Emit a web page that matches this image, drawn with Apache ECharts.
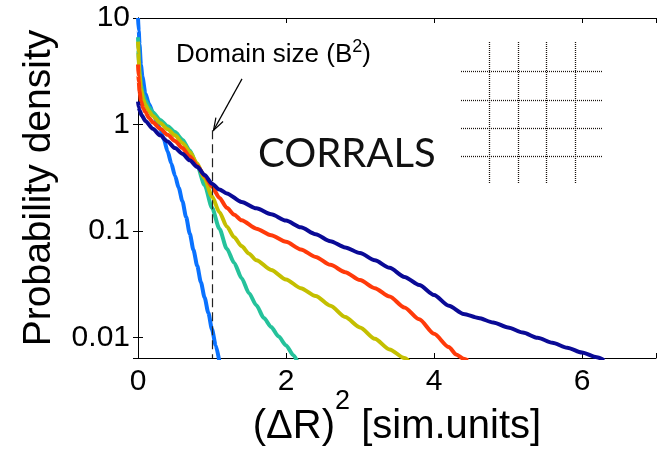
<!DOCTYPE html>
<html>
<head>
<meta charset="utf-8">
<script src="https://cdn.jsdelivr.net/npm/echarts@6/dist/echarts.min.js"></script>
<style>
  html, body { margin: 0; padding: 0; background: #fff; }
  #chart { width: 662px; height: 452px; }
</style>
</head>
<body>
<div id="chart"></div>
<script>
// Displacement distributions, one curve per corral size: [(ΔR)^2, probability density]
const lightBlue = [[0,10],[0.01,7.6],[0.02,5.7],[0.04,3.6],[0.06,2.8],[0.1,1.95],[0.15,1.55],[0.2,1.3],[0.25,1.08],[0.3,0.9],[0.35,0.72],[0.4,0.56],[0.45,0.43],[0.5,0.33],[0.55,0.255],[0.6,0.19],[0.65,0.135],[0.7,0.094],[0.75,0.066],[0.8,0.047],[0.85,0.033],[0.9,0.0237],[0.95,0.017],[1.0,0.0119],[1.05,0.0084],[1.1,0.0059]];
const teal = [[0,6.6],[0.005,5.0],[0.01,4.2],[0.02,3.2],[0.04,2.35],[0.07,1.9],[0.1,1.68],[0.15,1.45],[0.2,1.3],[0.3,1.1],[0.4,0.96],[0.5,0.85],[0.6,0.72],[0.7,0.57],[0.8,0.41],[0.9,0.27],[1.0,0.165],[1.1,0.105],[1.2,0.068],[1.3,0.05],[1.4,0.036],[1.5,0.026],[1.6,0.02],[1.7,0.0152],[1.8,0.0125],[1.9,0.0102],[2.0,0.0084],[2.1,0.0068],[2.15,0.006]];
const olive = [[0,6.0],[0.005,4.8],[0.01,4.0],[0.02,3.0],[0.04,2.15],[0.07,1.72],[0.1,1.52],[0.15,1.33],[0.2,1.2],[0.3,1.03],[0.4,0.9],[0.5,0.79],[0.6,0.67],[0.7,0.55],[0.8,0.43],[0.9,0.31],[1.0,0.21],[1.1,0.15],[1.2,0.11],[1.3,0.087],[1.4,0.072],[1.5,0.061],[1.6,0.053],[1.8,0.043],[2.0,0.035],[2.2,0.029],[2.4,0.0245],[2.6,0.0198],[2.8,0.0155],[3.0,0.0124],[3.2,0.0097],[3.4,0.0077],[3.6,0.0064],[3.66,0.006]];
const red = [[0,3.66],[0.005,2.9],[0.01,2.55],[0.02,2.05],[0.04,1.65],[0.07,1.42],[0.1,1.3],[0.15,1.15],[0.2,1.05],[0.3,0.91],[0.4,0.8],[0.5,0.7],[0.6,0.6],[0.7,0.5],[0.8,0.41],[0.9,0.33],[1.0,0.26],[1.1,0.205],[1.2,0.165],[1.3,0.142],[1.4,0.126],[1.6,0.105],[1.8,0.091],[2.0,0.079],[2.2,0.067],[2.4,0.057],[2.6,0.048],[2.8,0.041],[3.0,0.0345],[3.2,0.029],[3.4,0.0242],[3.6,0.0191],[3.8,0.0148],[4.0,0.0108],[4.2,0.0081],[4.3,0.0069],[4.4,0.0063],[4.46,0.0061]];
const navy = [[0,1.64],[0.01,1.45],[0.02,1.36],[0.05,1.22],[0.1,1.08],[0.2,0.91],[0.3,0.79],[0.4,0.69],[0.5,0.6],[0.6,0.53],[0.7,0.46],[0.8,0.4],[0.9,0.335],[1.0,0.278],[1.1,0.245],[1.2,0.225],[1.4,0.187],[1.6,0.163],[1.8,0.143],[2.0,0.125],[2.2,0.108],[2.4,0.093],[2.6,0.08],[2.8,0.07],[3.0,0.062],[3.2,0.053],[3.4,0.045],[3.6,0.037],[3.8,0.031],[4.0,0.025],[4.2,0.0198],[4.4,0.0166],[4.6,0.0152],[4.8,0.0138],[5.0,0.0124],[5.2,0.0111],[5.4,0.0099],[5.6,0.0089],[5.8,0.008],[6.0,0.0072],[6.2,0.0065],[6.3,0.0061]];

// Axis ranges and labelled ticks
const xTicks = [0, 2, 4, 6];
const yTicks = [0.01, 0.1, 1, 10];
const xRange = [0, 7];
const yRange = [0.0064, 10];

// Domain size marker: (ΔR)^2 = B^2 = 1
const domainSize = 1;
const domainMarkerTop = 0.88;

const FONT = 'Liberation Sans, Arial, Helvetica, sans-serif';

const chart = echarts.init(document.getElementById('chart'), null, { renderer: 'canvas' });

function curve(data, color) {
  return {
    type: 'line',
    data: data,
    symbol: 'none',
    showSymbol: false,
    smooth: 0.25,
    smoothMonotone: 'x',
    clip: true,
    lineStyle: { color: color, width: 4 },
    emphasis: { disabled: true },
    silent: true
  };
}

function isTick(list, v) {
  return list.some(t => Math.abs(t - v) < 1e-9 * Math.max(1, Math.abs(t)));
}

const frameAxisLine = { show: true, lineStyle: { color: '#000', width: 1 } };
const frameTick = { show: true, inside: true, length: 5, lineStyle: { color: '#000', width: 1 } };

const blueSeries = curve(lightBlue, '#0a72ff');
blueSeries.markLine = {
  silent: true,
  symbol: ['none', 'none'],
  label: { show: false },
  lineStyle: { type: [9, 5], color: '#222', width: 1.2 },
  data: [[{ coord: [domainSize, domainMarkerTop] }, { coord: [domainSize, yRange[0]] }]]
};

chart.setOption({
  animation: false,
  backgroundColor: '#fff',
  grid: { left: 138, right: 6, top: 18, bottom: 94, containLabel: false, outerBoundsMode: 'none' },
  xAxis: [
    {
      type: 'value', position: 'bottom', min: xRange[0], max: xRange[1], interval: 2,
      axisLine: frameAxisLine, axisTick: frameTick, splitLine: { show: false },
      axisLabel: {
        fontFamily: FONT, fontSize: 30, color: '#000', margin: 9,
        formatter: v => isTick(xTicks, v) ? String(v) : ''
      },
      name: '{n|(ΔR)}{s|2}{n| [sim.units]}',
      nameLocation: 'middle', nameGap: 30, nameMoveOverlap: false,
      nameTextStyle: {
        fontFamily: FONT, fontSize: 40, color: '#000',
        rich: {
          n: { fontFamily: FONT, fontSize: 40, color: '#000', lineHeight: 59, verticalAlign: 'bottom' },
          s: { fontFamily: FONT, fontSize: 27, color: '#000', lineHeight: 27, verticalAlign: 'top' }
        }
      }
    },
    {
      type: 'value', position: 'top', min: xRange[0], max: xRange[1], interval: 2,
      axisLine: frameAxisLine, axisTick: frameTick, splitLine: { show: false },
      axisLabel: { show: false }
    }
  ],
  yAxis: [
    {
      type: 'log', logBase: 10, position: 'left', min: yRange[0], max: yRange[1],
      axisLine: frameAxisLine, axisTick: frameTick, splitLine: { show: false },
      minorTick: { show: false },
      axisLabel: {
        fontFamily: FONT, fontSize: 30, color: '#000', margin: 8,
        formatter: v => isTick(yTicks, v) ? String(+v.toPrecision(6)) : ''
      },
      name: 'Probability density',
      nameLocation: 'middle', nameRotate: 90, nameGap: 79, nameMoveOverlap: false,
      nameTextStyle: { fontFamily: FONT, fontSize: 39, color: '#000' }
    },
    {
      type: 'log', logBase: 10, position: 'right', min: yRange[0], max: yRange[1],
      axisLine: frameAxisLine, axisTick: frameTick, splitLine: { show: false },
      axisLabel: { show: false }
    }
  ],
  series: [
    blueSeries,
    curve(teal, '#25c29b'),
    curve(olive, '#c4bf00'),
    curve(red, '#ff3a0a'),
    curve(navy, '#0a0a96')
  ]
});

// Annotations: label, arrow to the domain-size marker, corral sketch
const gridLinesX = [489.5, 518.5, 546.5, 575.5];
const gridLinesY = [71.5, 100.5, 128.5, 156.5];
const dotted = { stroke: '#1c1510', lineWidth: 1.3, lineDash: [1, 1] };
const sketch = [];
gridLinesX.forEach(x => sketch.push({ type: 'line', shape: { x1: x, y1: 42, x2: x, y2: 183 }, style: dotted, silent: true }));
gridLinesY.forEach(y => sketch.push({ type: 'line', shape: { x1: 461, y1: y, x2: 602, y2: y }, style: dotted, silent: true }));

const tip = chart.convertToPixel({ gridIndex: 0 }, [domainSize, domainMarkerTop]);
const tipX = tip[0] + 1.5, tipY = tip[1];
const tail = [tipX + 28.5, tipY - 51.5];
const ang = Math.atan2(tail[1] - tipY, tail[0] - tipX);
const headLen = 13, spread = 0.32;
const wing1 = [tipX + headLen * Math.cos(ang - spread), tipY + headLen * Math.sin(ang - spread)];
const wing2 = [tipX + headLen * Math.cos(ang + spread), tipY + headLen * Math.sin(ang + spread)];

chart.setOption({
  graphic: [
    {
      type: 'text', left: 176, top: 38, silent: true,
      style: {
        text: '{a|Domain size (B}{s|2}{a|)}',
        fill: '#000',
        rich: {
          a: { fontFamily: FONT, fontSize: 26, lineHeight: 30, verticalAlign: 'bottom', fill: '#000' },
          s: { fontFamily: FONT, fontSize: 18, lineHeight: 18, verticalAlign: 'top', fill: '#000' }
        }
      }
    },
    {
      type: 'text', left: 258, top: 134, silent: true,
      style: { text: 'CORRALS', fontFamily: 'Lato, Carlito, Calibri, sans-serif', fontSize: 40, fill: '#111' }
    },
    {
      type: 'line', silent: true,
      shape: { x1: tail[0], y1: tail[1], x2: tipX, y2: tipY },
      style: { stroke: '#000', lineWidth: 1.2 }
    },
    {
      type: 'polyline', silent: true,
      shape: { points: [wing1, [tipX, tipY], wing2] },
      style: { stroke: '#000', lineWidth: 1.2, fill: null }
    },
    { type: 'group', silent: true, children: sketch }
  ]
});
</script>
</body>
</html>
